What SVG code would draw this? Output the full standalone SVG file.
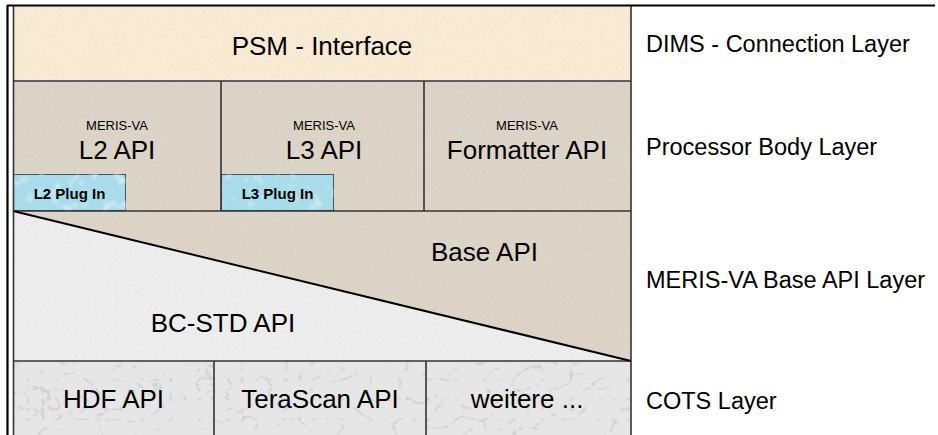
<svg xmlns="http://www.w3.org/2000/svg" width="938" height="435" viewBox="0 0 938 435">
  <style>
    text { font-family: "Liberation Sans", Arial, sans-serif; fill: #000; }
    .big { font-size: 26px; text-anchor: middle; }
    .small { font-size: 13px; text-anchor: middle; }
    .plug { font-size: 15px; font-weight: bold; text-anchor: middle; }
    .layer { font-size: 23.5px; }
    .edge { stroke: #333; stroke-width: 1.6; fill: none; }
    .psm { fill: #F9EBD3; }
    .stone { fill: #DDD4C8; }
    .bcstd { fill: #EDEDED; }
    .marble { fill: #E6E6E6; }
    .water { fill: #A8DCEA; stroke: #333; stroke-width: 1.6; }
  </style>
  <defs>
    <filter id="grain" x="0" y="0" width="100%" height="100%">
      <feTurbulence type="fractalNoise" baseFrequency="0.85" numOctaves="2" seed="4" result="n"/>
      <feColorMatrix in="n" type="matrix" values="0 0 0 0 0.45  0 0 0 0 0.40  0 0 0 0 0.35  0 0 0 5 -3.2" result="dots"/>
      <feComposite in="dots" in2="SourceGraphic" operator="in" result="d2"/>
      <feComponentTransfer in="d2" result="d3"><feFuncA type="linear" slope="0.35"/></feComponentTransfer>
      <feMerge><feMergeNode in="SourceGraphic"/><feMergeNode in="d3"/></feMerge>
    </filter>
    <filter id="veins" x="0" y="0" width="100%" height="100%">
      <feTurbulence type="turbulence" baseFrequency="0.035 0.05" numOctaves="3" seed="9" result="n"/>
      <feColorMatrix in="n" type="matrix" values="0 0 0 0 0.5  0 0 0 0 0.5  0 0 0 0 0.5  -10 0 0 0 1.3" result="v"/>
      <feComposite in="v" in2="SourceGraphic" operator="in" result="v2"/>
      <feComponentTransfer in="v2" result="v3"><feFuncA type="linear" slope="0.6"/></feComponentTransfer>
      <feMerge><feMergeNode in="SourceGraphic"/><feMergeNode in="v3"/></feMerge>
    </filter>
    <filter id="ripple" x="0" y="0" width="100%" height="100%">
      <feTurbulence type="fractalNoise" baseFrequency="0.08" numOctaves="2" seed="2" result="n"/>
      <feColorMatrix in="n" type="matrix" values="0 0 0 0 1  0 0 0 0 1  0 0 0 0 1  0 0 0 4 -2.2" result="w"/>
      <feComposite in="w" in2="SourceGraphic" operator="in" result="w2"/>
      <feComponentTransfer in="w2" result="w3"><feFuncA type="linear" slope="0.35"/></feComponentTransfer>
      <feMerge><feMergeNode in="SourceGraphic"/><feMergeNode in="w3"/></feMerge>
    </filter>
  </defs>

  <rect width="938" height="435" fill="#fff"/>

  <!-- DIMS connection layer -->
  <g id="psm-interface">
    <rect class="psm" x="13" y="6" width="618" height="75" filter="url(#grain)"/>
    <text class="big" x="322" y="55">PSM - Interface</text>
  </g>

  <!-- Processor body layer -->
  <g id="l2-api">
    <rect class="stone" x="13" y="81" width="208" height="130" filter="url(#grain)"/>
    <text class="small" x="117" y="130">MERIS-VA</text>
    <text class="big" x="117" y="159">L2 API</text>
  </g>
  <g id="l3-api">
    <rect class="stone" x="221" y="81" width="203" height="130" filter="url(#grain)"/>
    <text class="small" x="324" y="130">MERIS-VA</text>
    <text class="big" x="324" y="159">L3 API</text>
  </g>
  <g id="formatter-api">
    <rect class="stone" x="424" y="81" width="207" height="130" filter="url(#grain)"/>
    <text class="small" x="527" y="130">MERIS-VA</text>
    <text class="big" x="527" y="159">Formatter API</text>
  </g>
  <g id="l2-plugin">
    <rect class="water" x="13" y="174" width="113" height="37" filter="url(#ripple)"/>
    <text class="plug" x="69.5" y="199">L2 Plug In</text>
  </g>
  <g id="l3-plugin">
    <rect class="water" x="221" y="174" width="113" height="37" filter="url(#ripple)"/>
    <text class="plug" x="277.5" y="199">L3 Plug In</text>
  </g>

  <!-- MERIS-VA base API layer -->
  <g id="base-api">
    <polygon class="stone" points="13,211 631,211 631,361" filter="url(#grain)"/>
    <text class="big" x="484.5" y="261">Base API</text>
  </g>
  <g id="bc-std-api">
    <polygon class="bcstd" points="13,211 631,361 13,361" filter="url(#grain)"/>
    <text class="big" x="223" y="332">BC-STD API</text>
  </g>

  <!-- COTS layer -->
  <g id="hdf-api">
    <rect class="marble" x="13" y="361" width="201" height="74" filter="url(#veins)"/>
    <text class="big" x="113.5" y="408">HDF API</text>
  </g>
  <g id="terascan-api">
    <rect class="marble" x="214" y="361" width="212" height="74" filter="url(#veins)"/>
    <text class="big" x="320" y="408">TeraScan API</text>
  </g>
  <g id="weitere">
    <rect class="marble" x="426" y="361" width="205" height="74" filter="url(#veins)"/>
    <text class="big" x="527" y="408">weitere ...</text>
  </g>

  <!-- cell borders and separators -->
  <g id="connectors">
    <line class="edge" x1="13" y1="81" x2="631" y2="81"/>
    <line class="edge" x1="13" y1="211" x2="631" y2="211"/>
    <line class="edge" x1="13" y1="361" x2="631" y2="361"/>
    <line class="edge" x1="221" y1="81" x2="221" y2="211"/>
    <line class="edge" x1="424" y1="81" x2="424" y2="211"/>
    <line class="edge" x1="214" y1="361" x2="214" y2="435"/>
    <line class="edge" x1="426" y1="361" x2="426" y2="435"/>
    <line x1="13" y1="211" x2="631" y2="361" stroke="#000" stroke-width="2"/>
    <line class="edge" x1="631" y1="6" x2="631" y2="435" stroke-width="2"/>
    <line class="edge" x1="13.5" y1="6" x2="13.5" y2="435"/>
    <line x1="7" y1="5.5" x2="935" y2="5.5" stroke="#000" stroke-width="2.2"/>
    <line x1="7.5" y1="5" x2="7.5" y2="435" stroke="#000" stroke-width="2.2"/>
  </g>

  <!-- layer labels -->
  <g id="layer-labels">
    <text class="layer" x="646" y="52">DIMS - Connection Layer</text>
    <text class="layer" x="646" y="155">Processor Body Layer</text>
    <text class="layer" x="646" y="288">MERIS-VA Base API Layer</text>
    <text class="layer" x="646" y="409">COTS Layer</text>
  </g>
</svg>
